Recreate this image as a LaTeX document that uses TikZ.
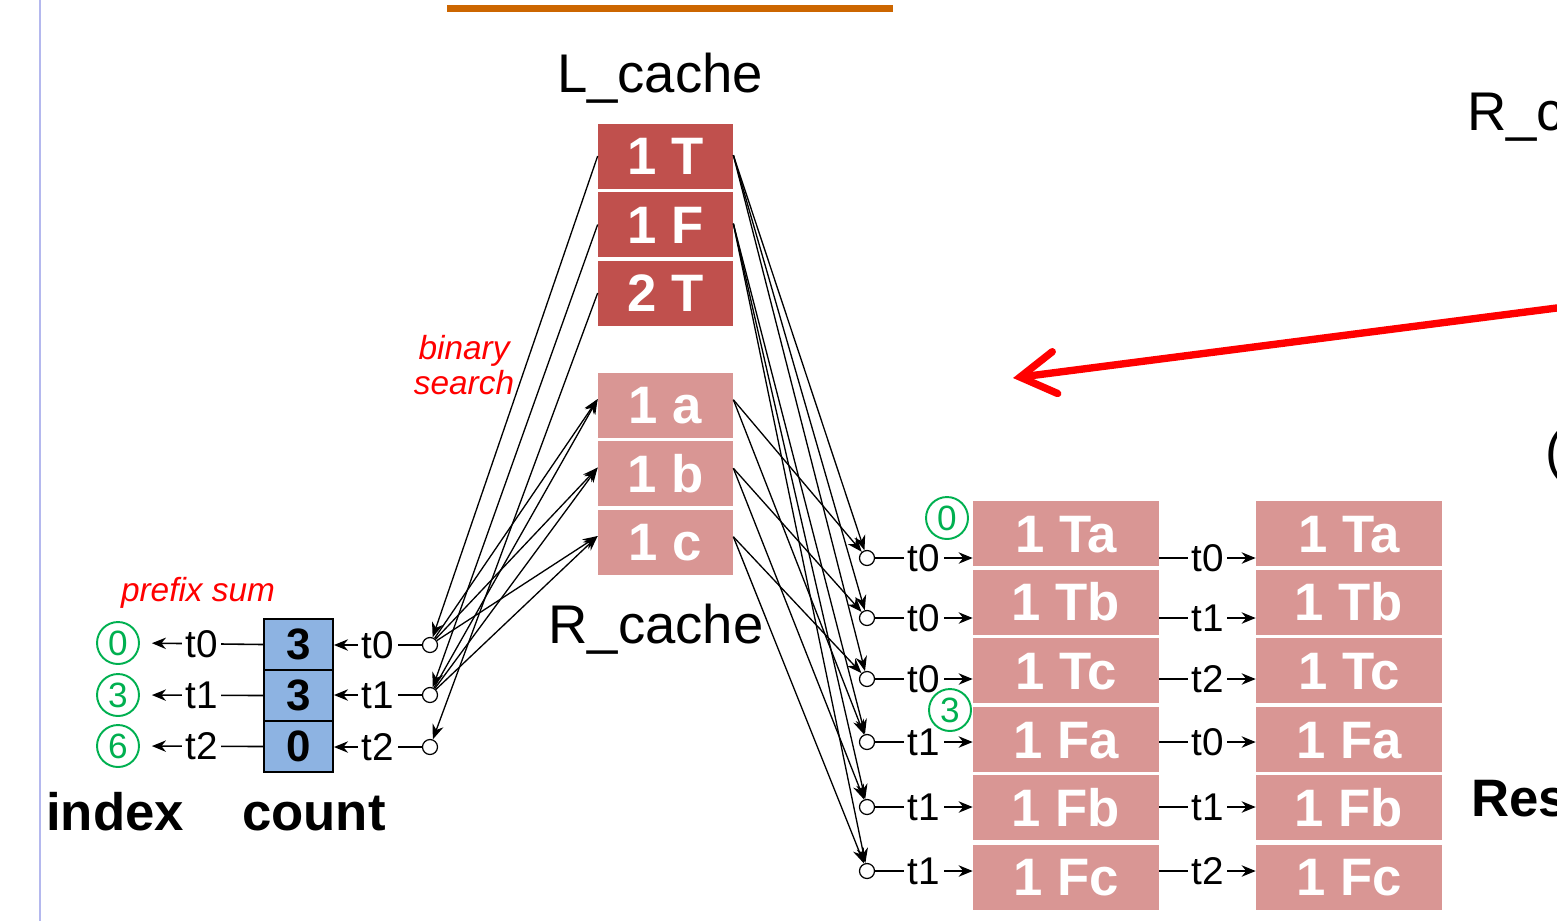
\documentclass[tikz,border=0pt]{standalone}
\usepackage{fontspec}
\setmainfont{Liberation Sans}
\usetikzlibrary{arrows.meta,calc}
\definecolor{lred}{HTML}{C0504D}
\definecolor{lpink}{HTML}{D99694}
\definecolor{cblue}{HTML}{8DB3E2}
\definecolor{gnc}{HTML}{00B050}
\definecolor{orng}{HTML}{CC6600}
\definecolor{vlinec}{HTML}{B4B8EE}
\newcommand\fsz[1]{\fontsize{#1}{#1}\selectfont}
\begin{document}
\begin{tikzpicture}[x=0.02cm,y=-0.02cm,
  title/.style={anchor=base,inner sep=0,font=\fsz{31}},
  bigb/.style={anchor=base,inner sep=0,font=\bfseries\fsz{30}},
  lcell/.style={fill=lred,text=white,font=\bfseries\fsz{30},minimum width=2.7cm,minimum height=1.3cm,inner sep=0,text height=21.5pt,text depth=0pt},
  rcell/.style={lcell,fill=lpink},
  rescell/.style={rcell,minimum width=3.72cm},
  cnt/.style={draw=black,line width=1.1pt,fill=cblue,minimum width=1.38cm,minimum height=1.02cm,inner sep=0,font=\bfseries\fsz{25}},
  tlab/.style={font=\fsz{22},fill=white,inner xsep=2pt,inner ysep=0pt},
  gnum/.style={circle,draw=gnc,text=gnc,line width=1.1pt,minimum size=0.84cm,inner sep=0,font=\fsz{20}},
  hole/.style={circle,draw=black,line width=0.7pt,minimum size=0.3cm,inner sep=0,fill=white},
  conn/.style={line width=0.75pt,-{Stealth[length=8.5pt,width=6.5pt]}},
  tarrow/.style={line width=0.9pt,-{Stealth[length=8pt,width=6.5pt]}},
  redit/.style={text=red,font=\itshape\fsz{19},inner sep=0},
  redarrow/.style={draw=red,line width=4.2pt,line cap=round,-{Straight Barb[length=20pt,width=24pt,line cap=round]}}
]
\useasboundingbox (0,0) rectangle (1557,921);
\clip (0,0) rectangle (1557,921);
\fill[white] (0,0) rectangle (1557,921);
\draw[vlinec,line width=1.1pt] (40,0) -- (40,921);
\fill[orng] (447,5) rectangle (893,12);

% titles
\node[title] (lct) at (660,92) {L\_cache};
\node[title] (rct) at (656,643) {R\_cache};
\node[title,anchor=base west] (rcr) at (1467,130) {R\_c};
\node[title,anchor=west] (par) at (1545,455) {(};
\node[bigb,anchor=base west] (res) at (1471,816) {Res};

% caches
\node[lcell] (l1) at (665.5,156) {1 T};
\node[lcell] (l2) at (665.5,224.5) {1 F};
\node[lcell] (l3) at (665.5,293) {2 T};
\node[rcell] (r1) at (665.5,405) {1 a};
\node[rcell] (r2) at (665.5,473.5) {1 b};
\node[rcell] (r3) at (665.5,542) {1 c};

% count
\node[cnt] (c1) at (298.5,644.5) {3};
\node[cnt] (c2) at (298.5,695.5) {3};
\node[cnt] (c3) at (298.5,746.5) {0};
\node[bigb] (idx) at (115,830) {index};
\node[bigb] (cntl) at (314,830) {count};
\node[redit] (pfx) at (198,593) {prefix sum};
\node[redit,align=center,font=\itshape\fontsize{19}{20.4}\selectfont] (bs) at (464,365) {binary\\search};

% green numbers left
\node[gnum] (g0) at (118,643) {0};
\node[gnum] (g1) at (118,695) {3};
\node[gnum] (g2) at (118,746) {6};

% left holes
\node[hole] (lh0) at (430,645) {};
\node[hole] (lh1) at (430,695) {};
\node[hole] (lh2) at (430,747) {};

\draw[tarrow,shorten >=6.8pt] (c1.west) -- node[tlab]{t0} (g0.east);
\draw[tarrow,shorten >=6.8pt] (c2.west) -- node[tlab]{t1} (g1.east);
\draw[tarrow,shorten >=6.8pt] (c3.west) -- node[tlab]{t2} (g2.east);
\draw[tarrow] (lh0.west) -- node[tlab]{t0} (c1.east |- lh0);
\draw[tarrow] (lh1.west) -- node[tlab]{t1} (c2.east |- lh1);
\draw[tarrow] (lh2.west) -- node[tlab]{t2} (c3.east |- lh2);

% result tables
\foreach \i/\y/\t in {1/533.5/1 Ta,2/602/1 Tb,3/670.5/1 Tc,4/739.5/1 Fa,5/807.5/1 Fb,6/877/1 Fc}{
  \node[rescell] (a\i) at (1066,\y) {\t};
  \node[rescell] (b\i) at (1349,\y) {\t};
}
% right holes
\foreach \i/\y in {1/558,2/618,3/679,4/742,5/807,6/871}{
  \node[hole] (rh\i) at (867,\y) {};
}
\foreach \i/\t in {1/t0,2/t0,3/t0,4/t1,5/t1,6/t1}{
  \draw[tarrow] (rh\i.east) -- node[tlab]{\t} (a\i.west |- rh\i);
}
\foreach \i/\t in {1/t0,2/t1,3/t2,4/t0,5/t1,6/t2}{
  \draw[tarrow] (a\i.east |- rh\i) -- node[tlab]{\t} (b\i.west |- rh\i);
}
\node[gnum] (gr0) at (947,518) {0};
\node[gnum] (gr3) at (950,710) {3};

% connectors left
\draw[conn] (l1.west) -- (lh0);
\draw[conn] (l2.west) -- (lh1);
\draw[conn] (l3.west) -- (lh2);
\foreach \h in {lh0,lh1}{
  \foreach \r in {r1,r2,r3}{
    \draw[conn] (\h) -- ([yshift=3.4pt]\r.west);
  }
}
% connectors right
\foreach \h in {rh1,rh2,rh3}{ \draw[conn] ([yshift=0.5pt]l1.east) -- (\h); }
\foreach \h in {rh4,rh5,rh6}{ \draw[conn] ([yshift=0.5pt]l2.east) -- (\h); }
\foreach \r/\h in {r1/rh1,r1/rh4,r2/rh2,r2/rh5,r3/rh3,r3/rh6}{
  \draw[conn] ([yshift=3pt]\r.east) -- (\h);
}

% red arrow
\coordinate (rs) at (1580,305);
\coordinate (rt) at (1013,378);
\draw[redarrow] (rs) -- (rt);
\end{tikzpicture}
\end{document}
